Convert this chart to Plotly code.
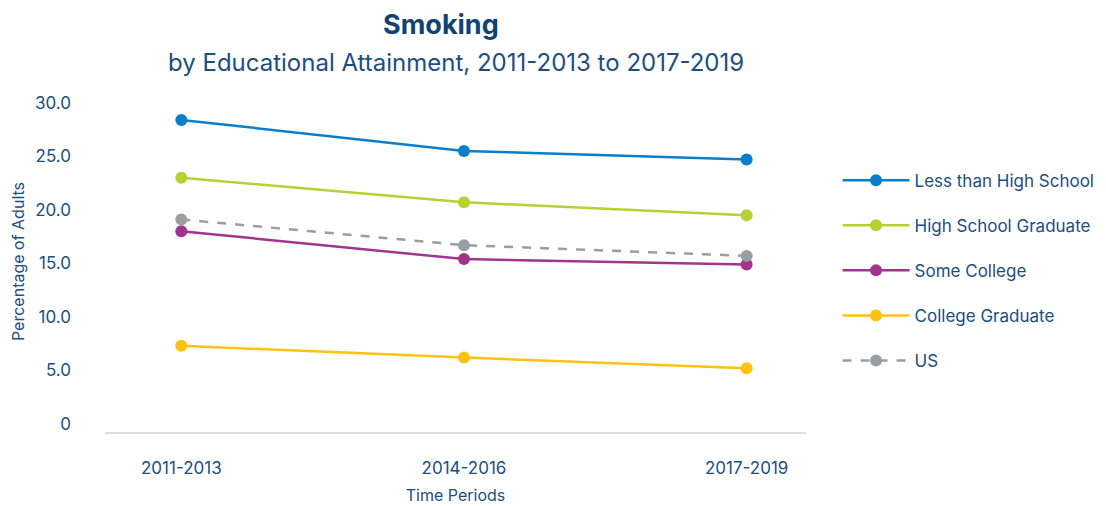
"""Smoking by educational attainment, 2011-2013 to 2017-2019."""
import plotly.graph_objects as go

PERIODS = ["2011-2013", "2014-2016", "2017-2019"]

LESS_THAN_HS = [28.4, 25.5, 24.7]
HS_GRADUATE = [23.0, 20.7, 19.5]
SOME_COLLEGE = [18.0, 15.4, 14.9]
COLLEGE_GRADUATE = [7.3, 6.2, 5.2]
US = [19.1, 16.7, 15.7]

TEXT = "#1d4e7e"
FONT = "Inter, Roboto, sans-serif"

SERIES = [
    ("Less than High School", LESS_THAN_HS, "#0a7dcc", "solid"),
    ("High School Graduate", HS_GRADUATE, "#b3d335", "solid"),
    ("Some College", SOME_COLLEGE, "#a2338e", "solid"),
    ("College Graduate", COLLEGE_GRADUATE, "#ffc20f", "solid"),
    ("US", US, "#9a9ea2", "dash"),
]

fig = go.Figure()
for name, vals, color, dash in SERIES:
    fig.add_trace(go.Scatter(
        x=PERIODS, y=vals, name=name, legendgroup=name,
        mode="lines+markers",
        line=dict(color=color, width=2.5, dash=dash),
        marker=dict(size=12, color=color),
    ))

# page body has an 8px margin, so the figure is 8px smaller than the window
fig.update_layout(
    width=1098, height=498,
    paper_bgcolor="white", plot_bgcolor="white",
    margin=dict(l=97, r=300, t=83, b=74, autoexpand=False),
    font=dict(family=FONT, color=TEXT, size=16),
    showlegend=True,
    legend=dict(
        x=1.045, y=0.79, xanchor="left", yanchor="top",
        font=dict(size=17, color=TEXT),
        itemwidth=67, tracegroupgap=20,
    ),
    annotations=[
        dict(text="<b>Smoking</b>", xref="paper", yref="paper",
             x=0.48, y=1.0, yshift=67, yanchor="middle", showarrow=False,
             font=dict(size=27, color="#0f4470", family=FONT)),
        dict(text="by Educational Attainment, 2011-2013 to 2017-2019",
             xref="paper", yref="paper", x=0.5, y=1.0, yshift=29,
             yanchor="middle", showarrow=False,
             font=dict(size=24, color=TEXT, family=FONT)),
    ],
)

fig.update_xaxes(
    type="category", range=[-0.27, 2.21], automargin=False,
    showline=True, linecolor="#dddddd", linewidth=2,
    showgrid=False, zeroline=False, ticks="",
    ticklabelstandoff=20, tickfont=dict(size=17, color=TEXT),
    title=dict(text="Time Periods", font=dict(size=16, color=TEXT), standoff=12),
)
fig.update_yaxes(
    range=[-0.75, 31.1], tickvals=[0, 5, 10, 15, 20, 25, 30], automargin=False,
    ticktext=["0", "5.0", "10.0", "15.0", "20.0", "25.0", "30.0"],
    showline=False, showgrid=False, zeroline=False, ticks="",
    ticklabelstandoff=33, tickfont=dict(size=17, color=TEXT),
    title=dict(text="Percentage of Adults", font=dict(size=16, color=TEXT), standoff=8),
)

fig.write_html("out.html")
